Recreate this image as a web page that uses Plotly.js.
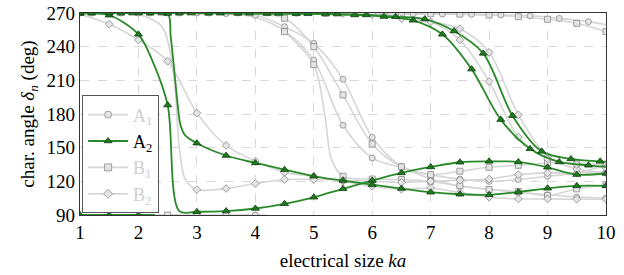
<!DOCTYPE html>
<html><head><meta charset="utf-8">
<script src="https://cdn.plot.ly/plotly-3.0.1.min.js"></script>
<style>html,body{margin:0;padding:0;background:#fff}#chart{width:624px;height:275px}</style>
</head><body><div id="chart"></div>
<script>
// ---- data ----
// A2 (green) modes: marker points and extra line-only points
const a2m1_x = [1,1.5,2,2.5,3,3.5,4,4.5,5,5.5,6,6.5,7,7.5,8,8.5,9,9.5,10];
const a2m1_y = [269.5,268,251,188,92.9,93.5,95.8,100,105.8,113.3,120.7,127.5,132.8,137,137.8,137.3,132.5,126,127];
const a2m1_kx = [2.25,2.7];
const a2m1_ky = [226,93.4];

const a2m2_x = [1,1.5,2,2.5,3,3.5,4,4.5,5,5.5,6,6.5,7,7.5,8,8.5,9,9.5,10];
const a2m2_y = [270,270,270,269.5,154,143,136.4,130.4,124.5,120.7,117,113.6,110.3,108.5,108,110.5,113.8,116,116];
const a2m2_kx = [2.55,2.62,2.68,2.72,2.8];
const a2m2_ky = [250,215,184,170,161];

const a2m3_x = [1.2,1.7,2.2,2.7,3.2,3.7,4.2,4.7,5.2,5.7,6.2,6.7,7.2,7.7,8.2,8.7,9.2,9.7];
const a2m3_y = [269.8,269.8,269.8,269.8,269.7,269.6,269.5,269.3,269,268.3,266.8,263.5,251,220,175,149,137.3,134.3];
const a2m3_kx = [1,10];
const a2m3_ky = [269.8,133];

const a2m4_x = [1.9,2.4,2.9,3.4,3.9,4.4,4.9,5.4,5.9,6.4,6.9,7.4,7.9,8.4,8.9,9.4,9.9];
const a2m4_y = [269.9,269.9,269.9,269.8,269.7,269.5,269.3,269,268.3,266.7,264.6,254,234,178.5,146.7,140,137.8];
const a2m4_kx = [1,10];
const a2m4_ky = [269.9,137.5];

const a2m5_x = [1,1.5,2];
const a2m5_y = [90,90,90];
const a2m5_kx = [2.28];
const a2m5_ky = [90];

// A1 (circles)
const a1m1_x = [1.2,1.7,2.2,2.7,3.2,3.7,4.2,4.7,5.2,5.7,6.2,6.7,7.2,7.7,8.2,8.7,9.2,9.7];
const a1m1_y = [270,270,270,270,270,270,270,269.8,269.6,269.4,269.2,269,269,268.8,268.3,267.5,265.2,262.3];
const a1m1_kx = [1,10];
const a1m1_ky = [270,259.5];

const a1m2_x = [1,1.5,2,2.5,3,3.5,4,4.5,5,5.5,6,6.5,7,7.5,8,8.5,9,9.5,10];
const a1m2_y = [270,270,270,270,270,269.5,268,257.8,243,211,159.2,133.4,126,122,120,121.6,124.5,127.5,134.3];
const a1m2_kx = [];
const a1m2_ky = [];

const a1m3_x = [4.5,5,5.5,6,6.5,7,7.5,8,8.5,9,9.5,10];
const a1m3_y = [254,228,170,140.8,132,122.2,115.6,113,110,108,106,105];
const a1m3_kx = [3.5,4];
const a1m3_ky = [269.5,266];

const a1m4_x = [3,3.5,4];
const a1m4_y = [90,90,90];
const a1m4_kx = [2.3,4.2];
const a1m4_ky = [90,90];

// B1 (squares)
const b1m1_x = [6.5,7,7.5,8,8.5,9,9.5,10];
const b1m1_y = [269.5,269.3,269,268.2,266.7,264.4,260.8,253.4];
const b1m1_kx = [1,3,5];
const b1m1_ky = [270,270,269.8];

const b1m2_x = [4.5,5,5.5,6,6.5,7,7.5,8,8.5,9,9.5,10];
const b1m2_y = [265.3,240,197,153.3,133,126,129,132.5,134.3,136.4,136,135];
const b1m2_kx = [3.5,4];
const b1m2_ky = [270,269];

const b1m3_x = [4.5,5,5.5,6,6.5,7,7.5,8,8.5,9,9.5,10];
const b1m3_y = [253.4,224,124.5,122,121.6,120,116,112.7,111,107.3,113.3,117];
const b1m3_kx = [5.2,5.3];
const b1m3_ky = [175,140];

const b1m4_x = [2.5];
const b1m4_y = [90];
const b1m4_kx = [2.3,2.7];
const b1m4_ky = [90,90];

// B2 (diamonds)
const b2m1_x = [1.5,2,2.5,3,3.5,4,4.5,5,5.5,6,6.5,7,7.5,8,8.5,9,9.5,10];
const b2m1_y = [260,246,227,180.8,152,138,128,124.5,120,115.6,113,114,110,106,104.3,104.3,104,104];
const b2m1_kx = [1];
const b2m1_ky = [269];

const b2m2_x = [3,3.5,4,4.5,5,5.5,6,6.5,7,7.5,8,8.5,9,9.5,10];
const b2m2_y = [112.7,113.6,118,121.6,121.6,121,120,119,120,121,122,126,127.5,127.5,128];
const b2m2_kx = [2,2.4,2.6,2.7,2.8];
const b2m2_ky = [269,258,215,150,122];

const b2m3_x = [5.5,6,6.5,7,7.5,8,8.5,9,9.5,10];
const b2m3_y = [269.5,268.7,265,262,256,235,179.3,142.3,131,128];
const b2m3_kx = [1,4];
const b2m3_ky = [270,270];

const b2m4_x = [7.5,8,8.5,9,9.5,10];
const b2m4_y = [246,209,159.5,140,135,132];
const b2m4_kx = [6,7];
const b2m4_ky = [269,262];

const xTicks = [1,2,3,4,5,6,7,8,9,10];
const yTicks = [90,120,150,180,210,240,270];
const legendNames = ['A<sub>1</sub>','A<sub>2</sub>','B<sub>1</sub>','B<sub>2</sub>'];

// ---- build traces ----
const GREEN = '#2a8a2a', GREEN_M = '#1f7a1f', GREEN_E = '#0e3d0e';
const GRAY_L = '#d6d6d6', GRAY_F = '#e4e4e4', GRAY_E = '#8a8a8a';

function merged(mx, my, kx, ky){
  const pts = [];
  for (let i=0;i<mx.length;i++) pts.push([mx[i],my[i]]);
  for (let i=0;i<kx.length;i++) pts.push([kx[i],ky[i]]);
  pts.sort((a,b)=>a[0]-b[0]);
  return {x: pts.map(p=>p[0]), y: pts.map(p=>p[1])};
}

const gray = [
  ['circle', [[a1m1_x,a1m1_y,a1m1_kx,a1m1_ky],[a1m2_x,a1m2_y,a1m2_kx,a1m2_ky],[a1m3_x,a1m3_y,a1m3_kx,a1m3_ky],[a1m4_x,a1m4_y,a1m4_kx,a1m4_ky]]],
  ['square', [[b1m1_x,b1m1_y,b1m1_kx,b1m1_ky],[b1m2_x,b1m2_y,b1m2_kx,b1m2_ky],[b1m3_x,b1m3_y,b1m3_kx,b1m3_ky],[b1m4_x,b1m4_y,b1m4_kx,b1m4_ky]]],
  ['diamond', [[b2m1_x,b2m1_y,b2m1_kx,b2m1_ky],[b2m2_x,b2m2_y,b2m2_kx,b2m2_ky],[b2m3_x,b2m3_y,b2m3_kx,b2m3_ky],[b2m4_x,b2m4_y,b2m4_kx,b2m4_ky]]]
];
const greens = [[a2m1_x,a2m1_y,a2m1_kx,a2m1_ky],[a2m2_x,a2m2_y,a2m2_kx,a2m2_ky],[a2m3_x,a2m3_y,a2m3_kx,a2m3_ky],[a2m4_x,a2m4_y,a2m4_kx,a2m4_ky],[a2m5_x,a2m5_y,a2m5_kx,a2m5_ky]];

const traces = [];
gray.forEach(([sym, curves])=>{
  curves.forEach(c=>{
    const m = merged(c[0],c[1],c[2],c[3]);
    traces.push({x:m.x,y:m.y,mode:'lines',line:{color:GRAY_L,width:1.6,shape:'spline',smoothing:0.9},hoverinfo:'skip',showlegend:false});
  });
});
gray.forEach(([sym, curves])=>{
  curves.forEach(c=>{
    traces.push({x:c[0],y:c[1],mode:'markers',marker:{symbol:sym,size:6,color:GRAY_F,line:{color:GRAY_E,width:0.8}},showlegend:false,hoverinfo:'skip'});
  });
});
greens.forEach(c=>{
  const m = merged(c[0],c[1],c[2],c[3]);
  traces.push({x:m.x,y:m.y,mode:'lines',line:{color:GREEN,width:1.8,shape:'spline',smoothing:0.9},showlegend:false,hoverinfo:'skip'});
});
greens.forEach(c=>{
  traces.push({x:c[0],y:c[1],mode:'markers',marker:{symbol:'triangle-up',size:7,color:GREEN_M,line:{color:GREEN_E,width:0.8}},showlegend:false,hoverinfo:'skip'});
});
// legend entries
const legStyles = [
  {sym:'circle', lc:GRAY_L, mc:GRAY_F, me:GRAY_E, tc:'#d0d0d0'},
  {sym:'triangle-up', lc:GREEN, mc:GREEN_M, me:GREEN_E, tc:'#000'},
  {sym:'square', lc:GRAY_L, mc:GRAY_F, me:GRAY_E, tc:'#d0d0d0'},
  {sym:'diamond', lc:GRAY_L, mc:GRAY_F, me:GRAY_E, tc:'#d0d0d0'}
];
legendNames.forEach((n,i)=>{
  const s = legStyles[i];
  traces.push({x:[null],y:[null],mode:'lines+markers',name:'<span style="color:'+s.tc+'">'+n+'</span>',
    line:{color:s.lc,width:1.8},marker:{symbol:s.sym,size:7,color:s.mc,line:{color:s.me,width:0.8}},showlegend:true,legendrank:i+1});
});

const FONT = '"Liberation Serif"';
const layout = {
  width:624, height:275,
  margin:{l:80,r:18,t:13,b:60},
  paper_bgcolor:'#fff', plot_bgcolor:'#fff',
  font:{family:FONT,size:17,color:'#000'},
  xaxis:{range:[1,10],tickvals:xTicks,ticktext:xTicks.map(String),showgrid:true,gridcolor:'#cfcfcf',griddash:'dash',gridwidth:0.8,
    zeroline:false,showline:true,linecolor:'#333',linewidth:1.2,mirror:true,ticks:'',ticklen:0,
    title:{text:'electrical size <i>ka</i>',font:{family:FONT,size:19},standoff:11},tickfont:{family:FONT,size:19}},
  yaxis:{range:[90,270],tickvals:yTicks,ticktext:yTicks.map(String),showgrid:true,gridcolor:'#cfcfcf',griddash:'dash',gridwidth:0.8,
    zeroline:false,showline:true,linecolor:'#333',linewidth:1.2,mirror:true,ticks:'',ticklen:0,
    title:{text:'char. angle <i>δ</i><sub><i>n</i></sub> (deg)',font:{family:FONT,size:19},standoff:6},tickfont:{family:FONT,size:19}},
  legend:{x:0.004,y:0.008,xanchor:'left',yanchor:'bottom',bgcolor:'#fff',bordercolor:'#555',borderwidth:1,
    font:{family:FONT,size:18},tracegroupgap:0,itemwidth:40},
  showlegend:true
};
Plotly.newPlot('chart',traces,layout,{staticPlot:true,displayModeBar:false});
</script></body></html>
